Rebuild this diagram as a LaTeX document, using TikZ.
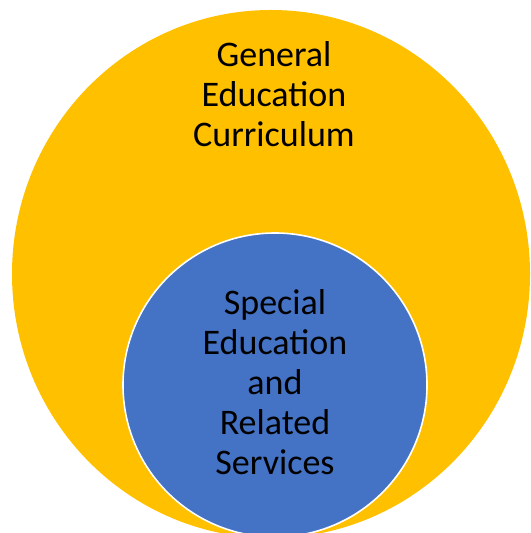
\documentclass[tikz,border=0pt]{standalone}
\usepackage{fontspec}
\setmainfont{Carlito}
\usetikzlibrary{shapes.geometric}
\definecolor{gencol}{HTML}{FFC000}
\definecolor{spcol}{HTML}{4472C4}
\tikzset{
  label text/.style={align=center,font=\fontsize{18}{20}\selectfont,text=black},
}
\begin{document}
\begin{tikzpicture}[x=0.5pt,y=-0.5pt]
   \useasboundingbox (0,0) rectangle (530,533);
   \clip (0,0) rectangle (530,533);
   \node[ellipse,fill=gencol,minimum width=259pt,minimum height=264pt,inner sep=0pt] (general) at (271,274) {};
   \node[label text] (generaltext) at (274,94) {General\\Education\\Curriculum};
   \node[circle,fill=spcol,draw=white,line width=0.8pt,minimum size=152pt,inner sep=0pt] (special) at (275,385) {};
   \node[label text] (specialtext) at (275,382) {Special\\Education\\and\\Related\\Services};
\end{tikzpicture}
\end{document}
